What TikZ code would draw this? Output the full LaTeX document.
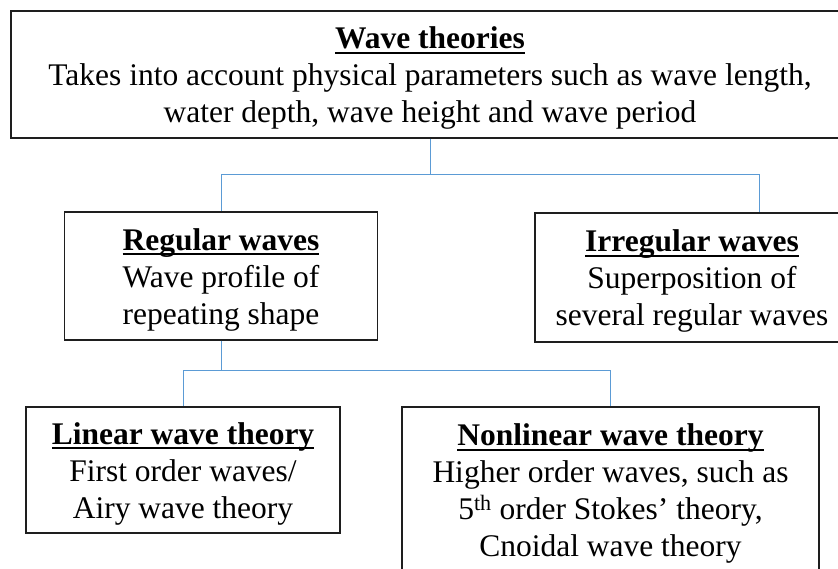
\documentclass[tikz,border=0pt]{standalone}
\usepackage{fontspec}
\setmainfont{Liberation Serif}
\usepackage{xcolor}
\definecolor{linkblue}{RGB}{91,155,213}
\definecolor{boxline}{RGB}{30,30,30}
\usetikzlibrary{positioning, calc}

\newsavebox{\titlebox}
\newcommand{\boxtitle}[1]{\sbox{\titlebox}{\textbf{#1}}\rule{0pt}{29pt}\rlap{\usebox{\titlebox}}\rule[-5pt]{\wd\titlebox}{2pt}}

\begin{document}
\begin{tikzpicture}[x=1pt, y=-1pt,
    theory/.style={draw=boxline, line width=1.1pt, align=center, inner sep=0pt,
      font=\fontsize{31.5}{37}\selectfont},
    link/.style={linkblue, line width=1pt}]
  \useasboundingbox (0,0) rectangle (838,568);
  \clip (0,0) rectangle (838,568);

  % boxes
  \node[theory, minimum width=838pt, minimum height=127pt] (top) at (430,74.5)
    {\boxtitle{Wave theories}\\ Takes into account physical parameters such as wave length,\\ water depth, wave height and wave period};
  \node[theory, minimum width=313pt, minimum height=128pt] (reg) at (221,276)
    {\boxtitle{Regular waves}\\ Wave profile of\\ repeating shape};
  \node[theory, minimum width=314pt, minimum height=129pt] (irr) at (692,277.5)
    {\boxtitle{Irregular waves}\\ Superposition of\\ several regular waves};
  \node[theory, minimum width=314pt, minimum height=126pt] (lin) at (183,470)
    {\boxtitle{Linear wave theory}\\ First order waves/\\ Airy wave theory};
  \node[theory, minimum width=417pt, minimum height=166pt] (nonlin) at (610.5,490)
    {\boxtitle{Nonlinear wave theory}\\ Higher order waves, such as\\ 5\textsuperscript{th} order Stokes' theory,\\ Cnoidal wave theory};

  % connectors
  \coordinate (j1) at (430,174);
  \coordinate (j2) at (221,370);
  \draw[link] (top.south) -- (j1);
  \draw[link] (j1) -| (reg.north);
  \draw[link] (j1) -| ([xshift=67pt]irr.north);
  \draw[link] (reg.south) -- (j2);
  \draw[link] (j2) -| (lin.north);
  \draw[link] (j2) -| (nonlin.north);
\end{tikzpicture}
\end{document}
